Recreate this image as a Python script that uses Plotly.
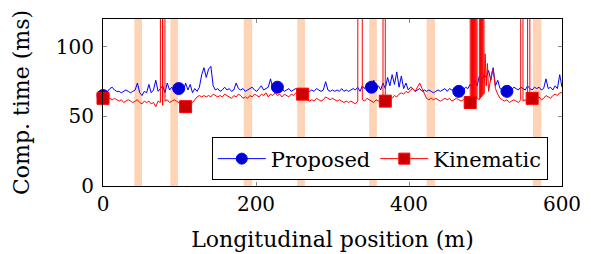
import numpy as np
import plotly.graph_objects as go

# ---------------- data ----------------
step = 3
positions = list(range(0, 601, step))  # longitudinal position grid (m)

proposed = [
    65, 66, 68, 70, 71, 69, 68, 68, 67, 68,
    69, 68, 67, 68, 69, 74, 67, 65, 68, 67,
    73, 67, 69, 76, 68, 70, 72, 67, 74, 69,
    71, 68, 72, 70, 73, 68, 74, 69, 73, 67,
    70, 68, 71, 80, 85, 78, 84, 86, 72, 69,
    70, 68, 69, 71, 69, 70, 68, 69, 74, 70,
    69, 70, 68, 69, 70, 71, 69, 68, 70, 72,
    69, 70, 71, 77, 70, 71, 71, 69, 70, 68,
    69, 70, 68, 69, 70, 68, 69, 67, 68, 69,
    68, 69, 68, 70, 69, 68, 69, 75, 69, 68,
    69, 68, 69, 68, 70, 68, 69, 68, 69, 70,
    69, 71, 68, 72, 70, 74, 69, 71, 76, 70,
    72, 69, 74, 70, 78, 72, 80, 73, 82, 71,
    79, 70, 74, 69, 71, 70, 68, 69, 70, 68,
    69, 68, 69, 68, 67, 68, 69, 68, 69, 70,
    68, 70, 69, 69, 68, 68, 70, 69, 71, 70,
    73, 70, 76, 72, 79, 74, 80, 78, 83, 76,
    85, 72, 76, 70, 69, 71, 68, 70, 69, 71,
    70, 69, 71, 70, 69, 72, 70, 69, 71, 70,
    71, 69, 70, 77, 70, 71, 69, 72, 70, 80,
    71,
]

kinematic = [
    63, 65, 64, 63, 62, 63, 62, 61, 62, 60,
    61, 62, 61, 60, 61, 62, 60, 59, 61, 60,
    61, 59, 60, 57, 61, 60, 58, 61, 62, 60,
    61, 62, 61, 60, 59, 60, 57, 58, 59, 60,
    62, 64, 65, 64, 65, 64, 65, 64, 66, 65,
    64, 65, 64, 66, 65, 64, 63, 65, 64, 66,
    65, 63, 64, 63, 65, 64, 66, 65, 64, 66,
    65, 67, 64, 66, 65, 67, 65, 66, 64, 66,
    65, 64, 66, 65, 67, 66, 65, 66, 64, 62,
    61, 62, 61, 63, 62, 61, 62, 64, 63, 62,
    63, 62, 61, 62, 61, 60, 61, 60, 61, 60,
    59, 61, 60, 62, 61, 63, 62, 61, 60, 62,
    61, 62, 63, 61, 62, 64, 63, 65, 64, 66,
    67, 66, 68, 67, 69, 70, 68, 71, 74, 70,
    66, 63, 62, 63, 62, 63, 62, 61, 62, 63,
    62, 63, 61, 62, 63, 62, 61, 62, 63, 62,
    60, 62, 61, 63, 62, 64, 66, 72, 68, 78,
    84, 70, 66, 63, 62, 61, 62, 60, 61, 62,
    61, 60, 62, 61, 62, 60, 61, 63, 62, 63,
    64, 62, 63, 65, 64, 63, 65, 66, 65, 67,
    67,
]

# extra / denser Kinematic samples (outliers far above the axis top)
kinematic_extra_x = [76.5, 79.5, 336, 367.5,
                     480.75, 481.5, 482.25, 483.75, 484.5, 485.25, 486.75, 487.5, 488.25,
                     492.75, 493.5, 494.25, 495.75, 496.5, 497.25,
                     499.5, 502.5, 505.5, 508.5, 547.5, 556.5]
kinematic_extra_y = [2000, 2000, 2000, 2000,
                     2000, 61, 2000, 2000, 60, 2000, 2000, 62, 2000,
                     2000, 63, 2000, 2000, 65, 2000,
                     95, 88, 74, 82, 2000, 2000]

proposed_marks = [0, 99, 228, 351, 465, 528]
kinematic_marks = [0, 108, 261, 369, 480, 561]

band_lo = [41, 88, 184, 254, 348, 423, 562]
band_hi = [51, 98, 195, 264, 358, 434, 573]

x_ticks = [0, 200, 400, 600]
y_ticks = [0, 50, 100]

# ---------------- build ----------------
prop_map = dict(zip(positions, proposed))
kin_map = dict(zip(positions, kinematic))
kin_all = dict(kin_map)
for xx, yy in zip(kinematic_extra_x, kinematic_extra_y):
    kin_all[xx] = yy
kin_x = sorted(kin_all)
kin_y = [kin_all[v] for v in kin_x]

FONT = "DejaVu Serif"
BLUE, BLUE_FILL = "#0000ff", "#0000d0"
RED, RED_FILL = "#ff0000", "#cc0000"

fig = go.Figure()
fig.add_trace(go.Scatter(x=positions, y=proposed, mode="lines",
                         line=dict(color=BLUE, width=1), showlegend=False, hoverinfo="skip"))
fig.add_trace(go.Scatter(x=proposed_marks, y=[prop_map[v] for v in proposed_marks],
                         mode="markers", cliponaxis=False, hoverinfo="skip",
                         marker=dict(symbol="circle", size=12, color=BLUE_FILL,
                                     line=dict(color=BLUE, width=1)),
                         showlegend=False))
fig.add_trace(go.Scatter(x=kin_x, y=kin_y, mode="lines",
                         line=dict(color=RED, width=1), showlegend=False, hoverinfo="skip"))
fig.add_trace(go.Scatter(x=kinematic_marks, y=[kin_map[v] for v in kinematic_marks],
                         mode="markers", cliponaxis=False, hoverinfo="skip",
                         marker=dict(symbol="square", size=12, color=RED_FILL,
                                     line=dict(color=RED, width=1)),
                         showlegend=False))
# legend entries
fig.add_trace(go.Scatter(x=[None], y=[None], mode="lines+markers", name="Proposed",
                         line=dict(color=BLUE, width=1),
                         marker=dict(symbol="circle", size=11, color=BLUE_FILL,
                                     line=dict(color=BLUE, width=1))))
fig.add_trace(go.Scatter(x=[None], y=[None], mode="lines+markers", name="Kinematic",
                         line=dict(color=RED, width=1),
                         marker=dict(symbol="square", size=11, color=RED_FILL,
                                     line=dict(color=RED, width=1))))

for lo, hi in zip(band_lo, band_hi):
    fig.add_shape(type="rect", xref="x", yref="paper", x0=lo, x1=hi, y0=0, y1=1,
                  fillcolor="#ffd3b5", line=dict(width=0), layer="below")

axis_common = dict(showgrid=False, zeroline=False, showline=True, linecolor="black",
                   linewidth=1, mirror="ticks", ticks="inside", ticklen=4,
                   tickcolor="#888888", tickwidth=1, automargin=False,
                   tickfont=dict(family=FONT, size=20, color="black"))

fig.update_xaxes(range=[0, 600], tickvals=x_ticks, ticktext=[str(t) for t in x_ticks],
                 title=dict(text="Longitudinal position (m)", standoff=16,
                            font=dict(family=FONT, size=22, color="black")),
                 **axis_common)
fig.update_yaxes(range=[0, 120], tickvals=y_ticks, ticktext=[str(t) for t in y_ticks],
                 ticklabelstandoff=4,
                 title=dict(text="Comp. time (ms)", standoff=20,
                            font=dict(family=FONT, size=22, color="black")),
                 **axis_common)

fig.update_layout(
    width=591, height=254,
    margin=dict(l=103, r=29, t=19, b=68, pad=0, autoexpand=False),
    plot_bgcolor="white", paper_bgcolor="white",
    font=dict(family=FONT, size=20, color="black"),
    legend=dict(orientation="h", x=0.969, xanchor="right", y=0.033, yanchor="bottom",
                bgcolor="white", bordercolor="black", borderwidth=1,
                font=dict(family=FONT, size=21, color="black"),
                itemwidth=48, tracegroupgap=0),
)

fig.write_html("out.html", config={"displayModeBar": False},
               post_script="document.body.style.margin='0';")
